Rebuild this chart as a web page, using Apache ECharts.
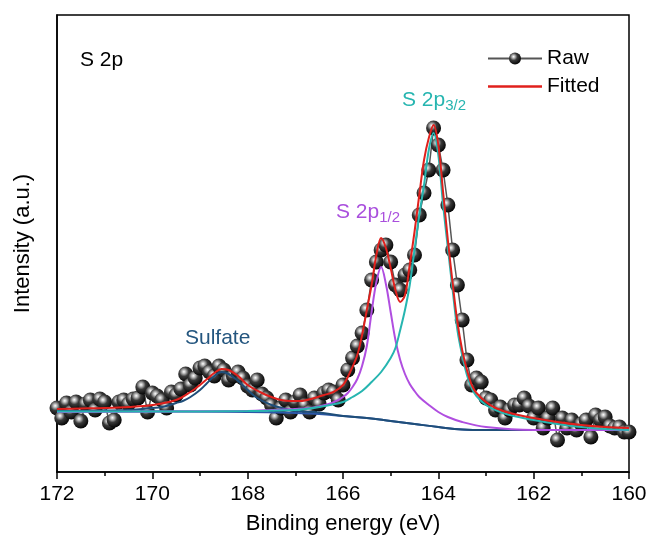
<!DOCTYPE html>
<html>
<head>
<meta charset="utf-8">
<script src="https://cdn.jsdelivr.net/npm/echarts@6/dist/echarts.min.js"></script>
<style>html,body{margin:0;padding:0;background:#fff}#c{width:652px;height:553px}</style>
</head>
<body>
<div id="c"></div>
<script>
// Binding energy grid of the raw spectrum (eV), 172 -> 160 in 0.1 eV steps
const rawEnergy = [];
for (let i = 0; i <= 120; i++) rawEnergy.push(+(172 - i * 0.1).toFixed(1));
// Raw intensity (a.u.)
const rawIntensity = [
64,54,69,60,70,51,68,72,62,73,
70,49,52,70,72,68,73,74,85,60,
79,76,72,64,80,77,83,98,87,94,
104,106,100,96,106,102,92,96,100,94,
86,82,92,78,74,67,54,64,72,60,
70,77,67,60,74,68,79,82,80,72,
87,102,114,126,139,162,192,210,222,227,
210,187,182,197,202,217,257,279,302,344,
327,302,267,222,187,152,112,87,94,90,
74,72,62,65,54,62,67,67,74,66,
54,64,44,54,64,32,54,44,52,42,
48,52,35,57,52,55,46,44,45,40,
40
];
// Fitted envelope
const fitEnergy = [172,171.5,171,170.5,170,169.5,169.2,169,168.85,168.7,168.55,168.4,168.2,168,167.7,167.5,167.3,167.1,166.9,166.6,166.4,166.2,166,165.85,165.7,165.6,165.5,165.4,165.3,165.2,165.1,165,164.9,164.8,164.7,164.6,164.5,164.4,164.3,164.2,164.1,164,163.9,163.8,163.7,163.6,163.5,163.4,163.3,163.2,163,162.8,162.5,162,161.5,161,160.5,160];
const fitIntensity = [63,63.5,64,65,67,72,80,87,93,99,103,102,96,87,79,75,72,71,71,74,77,80,87,100,117,137,162,187,217,234,224,204,182,170,177,207,240,277,312,334,347,327,280,232,189,150,122,102,87,79,70,64,59,54,50,47,45,44];
// S 2p3/2 component
const p32Energy = [172,170,168,167,166.5,166,165.8,165.6,165.4,165.2,165,164.9,164.8,164.7,164.6,164.5,164.4,164.3,164.2,164.1,164,163.9,163.8,163.7,163.6,163.5,163.4,163.3,163.2,163,162.8,162.5,162,161.5,161,160.5,160];
const p32Intensity = [60.5,60.5,61,62,65,70,75,81,90,100,114,124,142,162,187,222,257,287,322,339,317,267,224,182,142,117,97,84,76,67,62,57,52,48,45,43,42];
// S 2p1/2 component
const p12Energy = [172,168,167.5,166.7,166.3,166.1,166,165.9,165.8,165.7,165.6,165.5,165.4,165.3,165.2,165.1,165,164.9,164.8,164.7,164.6,164.5,164.4,164.2,164,163.8,163.5,163,162,160];
const p12Intensity = [60,61,62,64,68,72,75,79,85,93,106,126,160,190,205,188,160,132,112,98,88,81,75,67,60,55,50,45,42,42];
// Sulfate component
const sulfEnergy = [172,171,170.5,170,169.8,169.5,169.36,169.2,169,168.85,168.7,168.55,168.4,168.2,168,167.8,167.5,167.2,167,166.5,166,165.5,165,164.5,164,163.5,163,160];
const sulfIntensity = [61,61.5,62,64,65,69,71,75,82,89,96,100,98,91,82,74,67,63,61,59.5,56,54,51,48,45,42.5,42,42];
// Background
const bgEnergy = [172,168,167,166.5,166,165.5,165,164.5,164,163.5,163,160];
const bgIntensity = [61,60,59,58,56,54,51,48,45,42.5,42,42];
// Axis ticks
const xTicks = [172,170,168,166,164,162,160];

const zip = (a, b) => a.map((v, i) => [v, b[i]]);
const FONT = '"Liberation Sans", Arial, Helvetica, sans-serif';
const sphere = {
  type: 'radial', x: 0.38, y: 0.35, r: 0.7,
  colorStops: [
    {offset: 0, color: '#ffffff'},
    {offset: 0.18, color: '#b8b8b8'},
    {offset: 0.45, color: '#3a3a3a'},
    {offset: 1, color: '#000000'}
  ]
};
const lineIcon = 'path://M0,0 M54,15 M0,6.3 L54,6.3 L54,8.7 L0,8.7 Z';

const chart = echarts.init(document.getElementById('c'), null, {renderer: 'canvas'});
chart.setOption({
  animation: false,
  backgroundColor: '#ffffff',
  textStyle: {fontFamily: FONT},
  grid: {left: 57, right: 23, top: 15, bottom: 81, show: true, borderColor: '#000', borderWidth: 1.5, backgroundColor: 'transparent'},
  legend: {
    orient: 'vertical', left: 482, top: 43, itemWidth: 54, itemHeight: 15, itemGap: 7,
    data: ['Raw', {name: 'Fitted', icon: lineIcon, itemStyle: {color: '#e0201c'}}],
    textStyle: {fontFamily: FONT, fontSize: 21, color: '#000'}
  },
  xAxis: {
    type: 'value', min: 160, max: 172, interval: 2, inverse: true,
    axisLine: {show: true, onZero: false, lineStyle: {color: '#000', width: 1.5}},
    axisTick: {show: true, inside: false, length: 7, lineStyle: {color: '#000', width: 1.5}},
    minorTick: {show: true, splitNumber: 2, length: 4, lineStyle: {color: '#000', width: 1.5}},
    splitLine: {show: false},
    axisLabel: {
      margin: 12, fontSize: 21, color: '#000', fontFamily: FONT,
      customValues: xTicks,
      formatter: v => String(v)
    },
    name: 'Binding energy (eV)', nameLocation: 'middle', nameGap: 41,
    nameTextStyle: {fontSize: 22, color: '#000', fontFamily: FONT}
  },
  yAxis: {
    type: 'value', min: 0, max: 457,
    axisLine: {show: true, lineStyle: {color: '#000', width: 1.5}},
    axisTick: {show: false}, axisLabel: {show: false}, splitLine: {show: false},
    name: 'Intensity (a.u.)', nameLocation: 'middle', nameGap: 23, nameRotate: 90,
    nameTextStyle: {fontSize: 22, color: '#000', fontFamily: FONT}
  },
  series: [
    {
      name: 'Raw', type: 'line', data: zip(rawEnergy, rawIntensity), z: 1,
      symbol: 'circle', symbolSize: 15,
      lineStyle: {color: '#555', width: 1.5},
      itemStyle: {color: sphere, borderWidth: 0},
      color: '#555'
    },
    {name: 'Background', type: 'line', data: zip(bgEnergy, bgIntensity), smooth: 0.4, symbol: 'none', z: 3,
      lineStyle: {color: '#2c57a8', width: 2}, itemStyle: {color: '#2c57a8'}},
    {name: 'Sulfate', type: 'line', data: zip(sulfEnergy, sulfIntensity), smooth: 0.4, symbol: 'none', z: 4,
      lineStyle: {color: '#1f4e79', width: 2}, itemStyle: {color: '#1f4e79'}},
    {name: 'S 2p1/2', type: 'line', data: zip(p12Energy, p12Intensity), smooth: 0.35, symbol: 'none', z: 5,
      lineStyle: {color: '#b04ee0', width: 2}, itemStyle: {color: '#b04ee0'}},
    {name: 'S 2p3/2', type: 'line', data: zip(p32Energy, p32Intensity), smooth: 0.35, symbol: 'none', z: 6,
      lineStyle: {color: '#26b5b0', width: 2}, itemStyle: {color: '#26b5b0'}},
    {name: 'Fitted', type: 'line', data: zip(fitEnergy, fitIntensity), smooth: 0.35, symbol: 'none', z: 7,
      lineStyle: {color: '#e0201c', width: 2}, itemStyle: {color: '#e0201c'}}
  ],
  graphic: [
    {type: 'text', left: 80, top: 50, z: 100, style: {text: 'S 2p', fontSize: 21, fontFamily: FONT, fill: '#000'}},
    {type: 'text', left: 402, top: 87, z: 100, style: {
      text: '{a|S 2p}{s|3/2}', fontFamily: FONT,
      rich: {a: {fontSize: 21, fill: '#26b5b0', color: '#26b5b0', lineHeight: 26, fontFamily: FONT},
             s: {fontSize: 15, fill: '#26b5b0', color: '#26b5b0', lineHeight: 15, padding: [11, 0, 0, 0], fontFamily: FONT}}
    }},
    {type: 'text', left: 336, top: 199, z: 100, style: {
      text: '{a|S 2p}{s|1/2}', fontFamily: FONT,
      rich: {a: {fontSize: 21, fill: '#a94fdd', color: '#a94fdd', lineHeight: 26, fontFamily: FONT},
             s: {fontSize: 15, fill: '#a94fdd', color: '#a94fdd', lineHeight: 15, padding: [11, 0, 0, 0], fontFamily: FONT}}
    }},
    {type: 'text', left: 185, top: 328, z: 100, style: {text: 'Sulfate', fontSize: 21, fontFamily: FONT, fill: '#24567f'}}
  ]
});
</script>
</body>
</html>
